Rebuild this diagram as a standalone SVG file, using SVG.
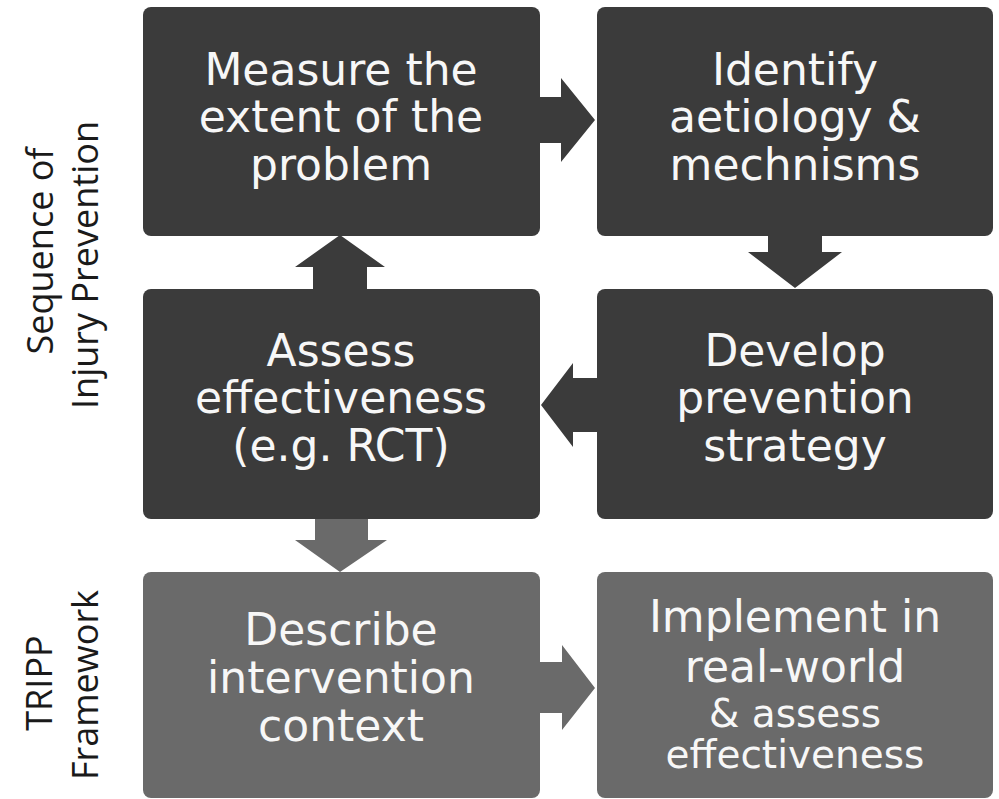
<svg xmlns="http://www.w3.org/2000/svg" width="999" height="799" viewBox="0 0 999 799">
<style>
.dark{fill:#3b3b3b}
.gray{fill:#6a6a6a}
.t{font-family:"DejaVu Sans",sans-serif;font-size:44px;fill:#f7f7f7;text-anchor:middle}
.s{font-size:39px}
.side{font-family:"Open Sans","Noto Sans",sans-serif;font-size:36px;fill:#1a1a1a;text-anchor:middle}
</style>
<rect width="999" height="799" fill="#ffffff"/>
<g id="connectors">
<polygon class="dark" points="536,97 561,97 561,78 595,120 561,162 561,143 536,143"/>
<polygon class="dark" points="768,232 822,232 822,252 842,252 795,288 748,252 768,252"/>
<polygon class="dark" points="601,378 573,378 573,363 541,405 573,447 573,432 601,432"/>
<polygon class="dark" points="313,293 313,267 295,267 340,235 385,267 367,267 367,293"/>
<polygon class="gray" points="315,515 368,515 368,540 387,540 340,572 295,540 315,540"/>
<polygon class="gray" points="536,662 562,662 562,645 595,688 562,730 562,713 536,713"/>
</g>
<g id="n1"><rect class="dark" x="143" y="7" width="397" height="229" rx="8"/>
<text class="t" x="341" y="85">Measure the</text><text class="t" x="341" y="132">extent of the</text><text class="t" x="341" y="180">problem</text></g>
<g id="n2"><rect class="dark" x="597" y="7" width="396" height="229" rx="8"/>
<text class="t" x="795" y="85">Identify</text><text class="t" x="795" y="132">aetiology &amp;</text><text class="t" x="795" y="180">mechnisms</text></g>
<g id="n3"><rect class="dark" x="143" y="289" width="397" height="230" rx="8"/>
<text class="t" x="341" y="366">Assess</text><text class="t" x="341" y="413">effectiveness</text><text class="t" x="341" y="461">(e.g. RCT)</text></g>
<g id="n4"><rect class="dark" x="597" y="289" width="396" height="230" rx="8"/>
<text class="t" x="795" y="366">Develop</text><text class="t" x="795" y="413">prevention</text><text class="t" x="795" y="461">strategy</text></g>
<g id="n5"><rect class="gray" x="143" y="572" width="397" height="226" rx="8"/>
<text class="t" x="341" y="645">Describe</text><text class="t" x="341" y="693">intervention</text><text class="t" x="341" y="741">context</text></g>
<g id="n6"><rect class="gray" x="597" y="572" width="396" height="226" rx="8"/>
<text class="t" x="795" y="632">Implement in</text><text class="t" x="795" y="682">real-world</text><text class="t s" x="795" y="727">&amp; assess</text><text class="t s" x="795" y="768">effectiveness</text></g>
<g id="label-sequence">
<text class="side" transform="translate(53,251) rotate(-90)">Sequence of</text>
<text class="side" transform="translate(98,265) rotate(-90)">Injury Prevention</text></g>
<g id="label-tripp">
<text class="side" transform="translate(52,683) rotate(-90)">TRIPP</text>
<text class="side" transform="translate(98,685) rotate(-90)">Framework</text></g>
</svg>
